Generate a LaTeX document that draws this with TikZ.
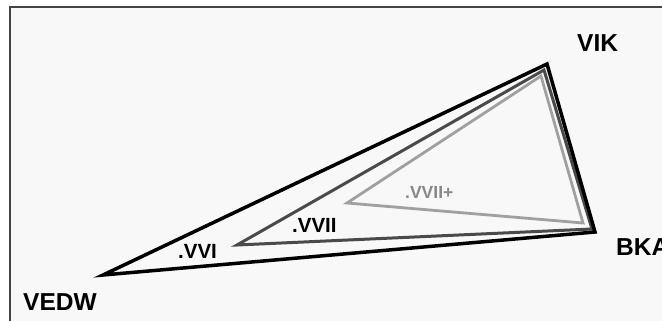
\documentclass[tikz,border=0pt]{standalone}
\usepackage{fontspec}
\setmainfont{Liberation Sans}
\definecolor{framegray}{HTML}{444444}
\definecolor{bggray}{HTML}{F8F8F8}
\definecolor{midgray}{HTML}{4A4A4A}
\definecolor{lightgray2}{HTML}{A0A0A0}
\definecolor{labelgray}{HTML}{888888}
\begin{document}
\begin{tikzpicture}[x=1pt,y=-1pt,
  bigtxt/.style={inner sep=0pt,anchor=base west,font=\fontsize{24.5}{28}\selectfont\bfseries},
  smalltxt/.style={inner sep=0pt,anchor=base west,font=\fontsize{20.5}{24}\selectfont\bfseries},
  tri1/.style={draw=black,line width=3.5pt,line join=miter},
  tri2/.style={draw=midgray,line width=3pt,line join=miter},
  tri3/.style={draw=lightgray2,line width=2.8pt,line join=miter}]
\useasboundingbox (0,0) rectangle (662,321);
\clip (0,0) rectangle (662,321);
\fill[white] (0,0) rectangle (662,321);
\fill[bggray] (10,7) rectangle (662,321);
\draw[framegray,line width=2pt] (10,330) -- (10,7) -- (670,7);
% vertices
\coordinate (a1) at (103,275);
\coordinate (b1) at (547,64);
\coordinate (c1) at (595,232);
\coordinate (a2) at (237,245);
\coordinate (b2) at (544,70);
\coordinate (c2) at (592,229);
\coordinate (a3) at (347,203);
\coordinate (b3) at (541,76);
\coordinate (c3) at (583,223);
\draw[tri3] (a3) -- (b3) -- (c3) -- cycle;
\draw[tri2] (a2) -- (b2) -- (c2) -- cycle;
\draw[tri1] (a1) -- (b1) -- (c1) -- cycle;
% labels
\node[bigtxt] (vik) at (577,52) {VIK};
\node[bigtxt] (bka) at (616,255) {BKA};
\node[bigtxt] (vedw) at (23,310) {VEDW};
\node[smalltxt] (vvi) at (178,258) {.VVI};
\node[smalltxt] (vvii) at (292,232) {.VVII};
\node[smalltxt,text=labelgray,font=\fontsize{17.5}{20}\selectfont\bfseries] (vviip) at (405,198) {.VVII+};
\end{tikzpicture}
\end{document}
